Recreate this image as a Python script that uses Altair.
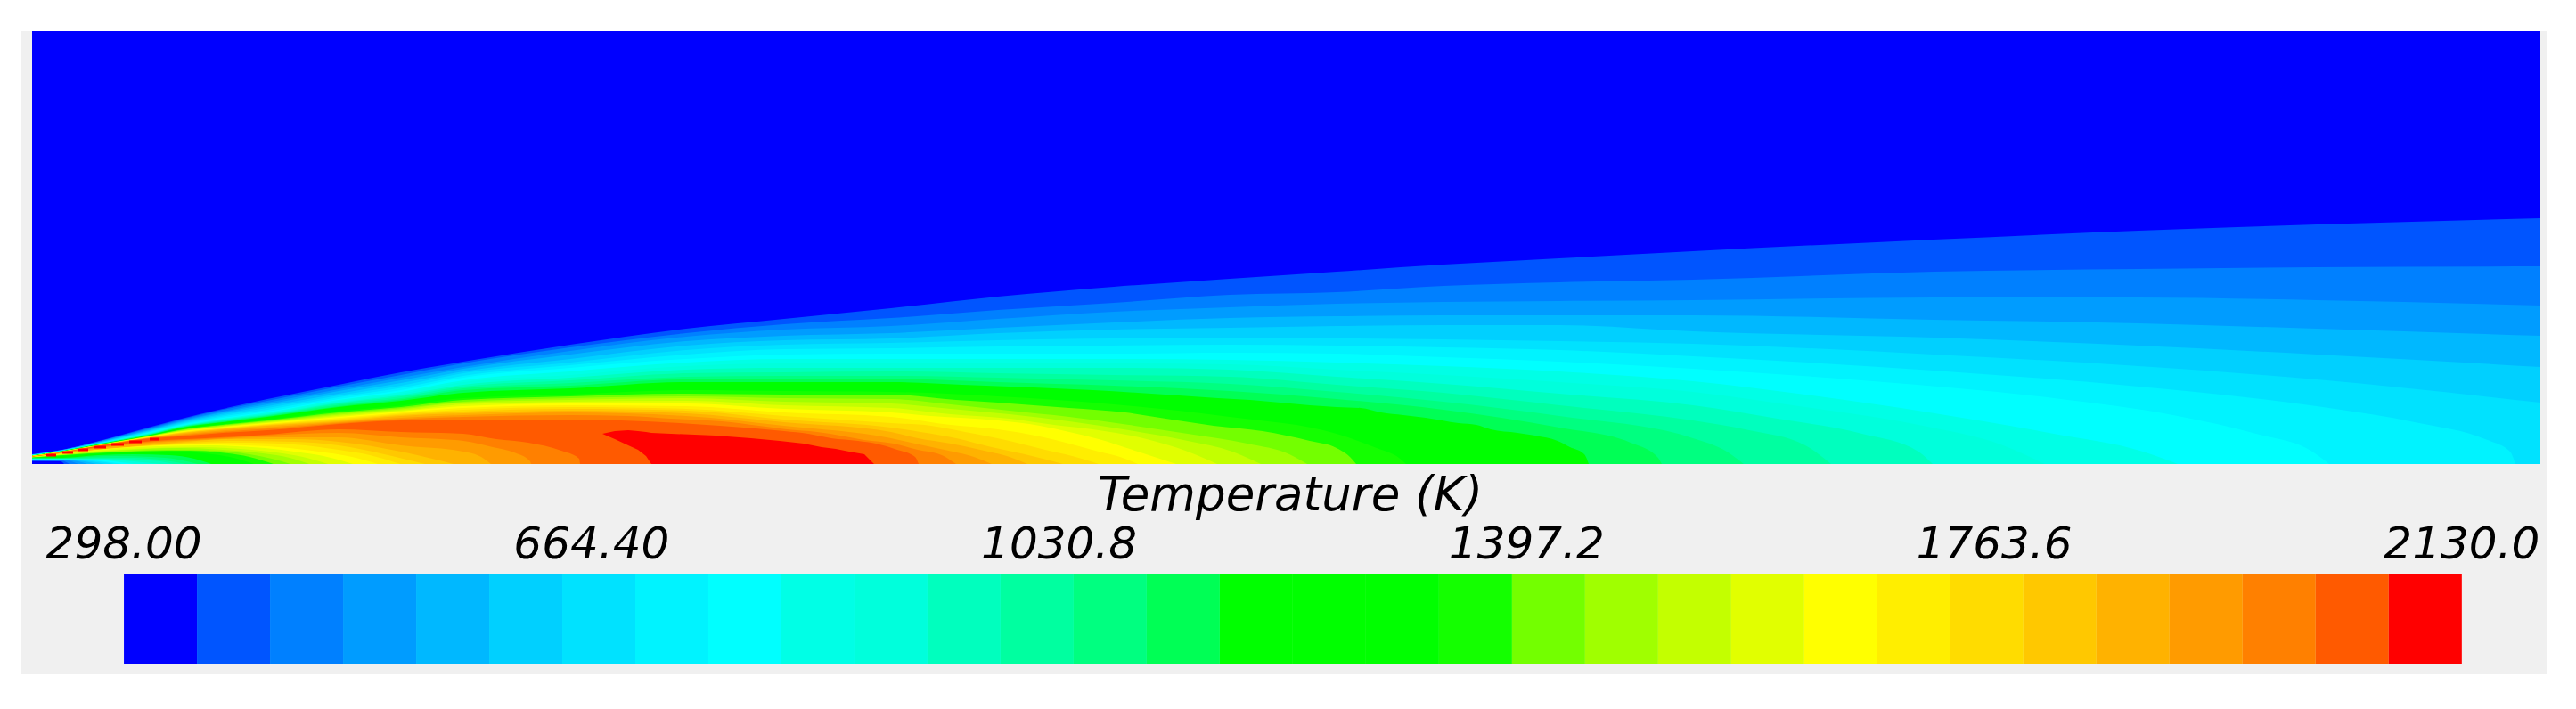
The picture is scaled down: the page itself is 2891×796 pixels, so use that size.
import altair as alt
import pandas as pd

COLORS = ["#0000ff", "#0055ff", "#0080ff", "#009cff", "#00b8ff", "#00d0ff", "#00e2ff", "#00f3ff",
          "#00ffff", "#00ffe6", "#00ffdc", "#00ffbe", "#00ffa0", "#00ff80", "#00ff55", "#00ff00",
          "#00ff00", "#00ff00", "#14ff00", "#73ff00", "#a0ff00", "#c3ff00", "#e1ff00", "#ffff00",
          "#ffee00", "#ffdc00", "#ffc800", "#ffb200", "#ff9b00", "#ff8000", "#ff5a00", "#ff0000"]

S = [36, 70, 100, 130, 170, 200, 250, 300, 380, 450, 520, 640, 770, 880, 1000, 1120, 1250, 1380,
     1500, 1620, 1750, 1900, 2170, 2400, 2600, 2851]

TOP = {
 1: ([11,16,23,31,42,50,62,73,89,103,115,134,152,163,175,188,199,208,216,224,231,239,252,262,269,276], []),
 2: ([10.9,15.9,22.7,30.5,41,49,61,71,87,100,113,131,147,157,164,173,181,190,193,200,204,207,216,219,221,222], []),
 3: ([10.7,15.7,22.4,29.9,40,48,59,69,84,97,109,127,143,151,155,163,171,176,180,182,183,184,187,187,184,178], []),
 4: ([10.6,15.6,22.1,29.3,39,47,58,67,82,94,107,123,138,144,147,153,159,164,166,167,167,167,162,158,152,144], []),
 5: ([10.4,15.4,21.8,28.7,38.2,46,56.5,65,79,91,104,118,133,139,141,147,151,153,155,156,156,149,142,133,123,109], []),
 6: ([10.3,15.3,21.5,28.2,37.5,45,55,63,77,88,102,114,128,134,136,139,141,141,141,140,138,135,123,110,95,69], []),
 7: ([10.1,15.1,21.2,27.6,36.7,44,53.5,61,75,85.5,99,111,123,129,130,132,133,134,133,131,128,121,105,87],
     [(2600,65),(2715,46),(2789,28),(2817,14),(2823,0)]),
 8: ([10,15,21,27,36,43,52,59,73,83,97,108,118,123,124,124,124,125,124,120,115,107],
     [(2102,93),(2305,74),(2444,54),(2532,34),(2595,14),(2614,0)]),
 9: ([9.9,14.9,20.8,26.8,35.5,42.5,51,58,72,81,94,104,114,118,118,118,118,117,114,110,104,93],
     [(2026,78),(2165,58),(2305,34),(2405,14),(2444,0)]),
 10: ([9.8,14.8,20.7,26.6,35,42,50.5,57,70.5,79,92,100,110,113,113,113,113,112,106,100,92,81],
     [(2026,64),(2153,44),(2248,21),(2295,0)]),
 11: ([9.8,14.7,20.5,26.4,34.5,41.7,49.8,56,69,77.5,89,97,106,108,108,108,108,106,98,90,79,66],
     [(1995,51),(2090,34),(2153,14),(2169,0)]),
 12: ([9.7,14.7,20.4,26.1,34,41.3,49,55,68,76,87,94,102,103,104,102,100,98,89,80,66,49],
     [(1963,38),(2026,21),(2055,0)]),
 13: ([9.6,14.6,20.2,25.9,33.7,41,48.3,54.5,66.5,74,85,91,98,99,99,97,94,90,81,70,54,29],
     [(1938,14),(1957,0)]),
 14: ([9.6,14.6,20.1,25.7,33.3,40.5,47.6,53.7,65,72.5,83,88,95,95,96,92,88,82,73,61,41],
     [(1830,24),(1860,8),(1865,0)]),
 15: ([9.5,14.5,20,25.5,33,40,47,53,64,71,80,85,92,92,92],
     [(1080,89),(1160,86),(1227,83),(1277,80),(1323,77),(1367,74),(1403,72),(1437,69),(1470,66),(1500,64),
      (1527,63),(1550,58),(1575,55),(1600,52),(1637,46),(1657,44),(1673,39),(1703,35),(1723,32),(1748,26),
      (1762,19),(1778,11),(1783,0)]),
 16: ([9.4,14.4,19.9,25.4,32.7,39.5,46.2,52,62.5,69,79,83,89,89,88,83,77,67,56,36],
     [(1670,24),(1705,8),(1712,0)]),
 17: ([9.4,14.3,19.8,25.3,32.5,39,45.5,51,61,67,77,80,86,85,84,79,72,61,46],
     [(1600,22),(1635,8),(1645,0)]),
 18: ([9.3,14.3,19.7,25.1,32.2,38.5,44.7,50,59.5,65.5,74,78,83,82,81,76,67,53,34],
     [(1545,18),(1570,7),(1578,0)]),
 19: ([9.2,14.2,19.6,25,32,38,44,49,58,64,72,76,79,78,78],
     [(1073,72),(1120,69),(1200,63),(1263,58),(1315,50),(1362,43),(1417,37),(1470,26),(1500,18),(1515,8),(1522,0)]),
 20: ([9.2,14.1,19.5,24.9,31.7,37.5,43.4,48.2,56.7,62.7,70,74,76,74,73],
     [(1067,67),(1133,60),(1200,53),(1267,44),(1333,34),(1400,23),(1447,11),(1467,0)]),
 21: ([9.1,14.1,19.4,24.7,31.5,37,42.8,47.5,55.5,61.5,69,72,74,70,68],
     [(1067,62),(1133,56),(1200,48),(1267,38),(1333,26),(1383,14),(1415,0)]),
 22: ([9,14,19.3,24.6,31.2,36.5,42.1,46.7,54.2,60.2,67,70,71,66,63],
     [(1067,56),(1133,51),(1183,44),(1233,38),(1283,29),(1333,14),(1366,0)]),
 23: ([9,14,19.2,24.5,31,36,41.5,46,53,59,65,68,68,62,58],
     [(1045,54),(1120,49),(1167,43),(1200,36),(1233,28),(1277,14),(1320,0)]),
 24: ([8.9,13.9,19.1,24.4,30.7,35.5,40.9,45.2,51.7,57.7,63,66,65,58,53],
     [(1067,44),(1120,39),(1167,31),(1200,23),(1233,14),(1257,8),(1277,0)]),
 25: ([8.8,13.8,19,24.3,30.5,35,40.2,44.5,50.5,56.5,61,64,62,54,46],
     [(1045,43),(1083,36),(1133,26),(1173,16),(1207,8),(1233,0)]),
 26: ([8.6,13.6,18.9,24.1,30.2,34.5,39.6,43.7,49.2,55.2,59,62,60,50,41],
     [(1033,36),(1073,29),(1113,19),(1150,11),(1193,0)]),
 27: ([8.5,13.5,18.8,24,30,34,39,43,48,54,57,60,57,47,36],
     [(1030,29),(1067,23),(1100,16),(1133,8),(1153,0)]),
 28: ([8.3,13.3,18.7,23.8,29.7,33,37.7,41.3,47,52,55,58,54,43,29],
     [(1027,23),(1060,16),(1093,8),(1113,0)]),
 29: ([8.2,13.2,18.6,23.7,29.3,32,36.3,39.7,46,50.5,53,55],
     [(705,54),(753,51),(810,48),(852,43),(883,39),(917,36),(943,32),(970,27),(1003,23),(1030,16),(1057,10),(1073,0)]),
 30: ([8,13,18.5,23.5,29,31,35,38,45,49,49,50],
     [(697,49),(763,46),(808,43),(848,40),(880,37),(907,34),(933,29),(963,26),(983,23),(1007,16),(1027,8),(1031,0)]),
}

LOW = {
 1: [(36,3),(68,3),(72,0)],
 2: [(36,4),(70,3.5),(78,0)],
 3: [(36,4.2),(75,3.7),(88,0)],
 4: [(36,4.4),(80,3.9),(98,0)],
 5: [(36,4.6),(85,4),(108,0)],
 6: [(36,4.8),(90,4.2),(118,0)],
 7: [(36,5),(95,4.4),(128,0)],
 8: [(36,5.2),(100,4.6),(137,0)],
 9: [(36,5.4),(105,4.8),(150,0)],
 10: [(36,5.6),(110,5),(140,2),(165,0)],
 11: [(36,5.8),(70,5.5),(115,5.5),(150,3),(180,0)],
 12: [(36,6),(70,5.7),(120,6),(175,3.5),(195,0)],
 13: [(36,6.2),(70,6),(110,7),(150,7),(185,4),(208,0)],
 14: [(36,6.4),(70,6.5),(100,8),(130,9),(170,8),(200,5),(222,0)],
 15: [(36,6.6),(70,7),(110,10),(150,11),(190,10),(218,6),(237,0)],
 16: [(36,6.8),(80,8),(120,11),(160,12),(200,11),(232,6),(250,0)],
 17: [(36,7),(100,10),(140,12.5),(180,13),(215,11),(247,6),(265,0)],
 18: [(36,7.1),(100,11),(150,13.5),(190,14),(230,12),(262,7),(285,0)],
 19: [(36,7.2),(100,12),(163,14.5),(213,15),(247,13),(280,8),(307,0)],
 20: [(36,7.3),(120,13),(190,16),(240,15),(280,11),(305,6),(326,0)],
 21: [(36,7.4),(130,15),(200,18),(250,16),(295,12),(325,7),(347,0)],
 22: [(36,7.5),(150,17),(220,19),(270,17),(310,13),(340,8),(368,0)],
 23: [(36,7.6),(163,19.5),(230,21),(297,18),(330,14),(363,9),(396,0)],
 24: [(36,7.7),(180,21),(230,22),(300,20),(350,15),(395,8),(424,0)],
 25: [(36,7.7),(197,22),(263,24),(330,22),(380,16),(415,10),(449,0)],
 26: [(36,7.8),(197,23),(263,26),(330,25),(380,21),(440,9),(477,0)],
 27: [(36,7.8),(197,24),(263,28),(330,28),(380,25),(450,14),(509,0)],
 28: [(36,7.9),(173,24),(230,27),(300,30),(380,30),(450,21),(520,14),(540,8),(551,0)],
 29: [(36,7.9),(173,25),(230,28),(300,32),(380,35),(450,30),(520,26),(553,19),(577,13),(595,3),(596,0)],
 30: [(36,8),(173,26),(230,29),(300,33),(380,39),(450,36),(520,34),(557,28),(593,24),(630,15),(650,6),(651,0)],
}

CORE_X = [676, 690, 705, 716, 725, 731, 803, 843, 875, 902, 922, 938, 953, 970, 981]
CORE_TOP = [34, 37, 38, 37, 36, 35, 32, 29, 26, 23, 19, 17, 14, 11, 0]
CORE_LOW = [34, 28, 21, 16, 9, 0, 0, 0, 0, 0, 0, 0, 0, 0, 0]

DASH_START = [52, 70, 87, 105, 125, 145, 168]
DASH_END = [63, 82, 99, 119, 139, 159, 179]
DASH_LOW = [8.5, 11.5, 14.5, 17.5, 20.5, 23.5, 26.5]
DASH_HIGH = [11.5, 14.5, 17.5, 20.5, 23.5, 26.5, 29.5]

T_MIN, T_MAX = 298.0, 2130.0
T_TICKS = [298.0, 664.4, 1030.8, 1397.2, 1763.6, 2130.0]
T_LABELS = ["298.00", "664.40", "1030.8", "1397.2", "1763.6", "2130.0"]
TITLE = "Temperature (K)"

x_s = alt.Scale(domain=[8, 2883], range=[0, 2875])
y_s = alt.Scale(domain=[-267, 513], range=[780, 0])
t_s = alt.Scale(domain=[206.5, 2213.9], range=[0, 2875])


def X(f="x"):
    return alt.X(f"{f}:Q", scale=x_s, axis=None, title=None)


def Y(f="h"):
    return alt.Y(f"{f}:Q", scale=y_s, axis=None, title=None)


def box(x0, x1, h0, h1, color):
    d = pd.DataFrame({"x": [x0], "x2": [x1], "h": [h0], "h2": [h1]})
    return alt.Chart(d).mark_rect(color=color, stroke=None).encode(
        x=X(), x2="x2:Q", y=Y(), y2="h2:Q")


def area(xs, hs, lows, color):
    d = pd.DataFrame({"x": xs, "h": hs, "low": lows})
    return alt.Chart(d).mark_area(color=color, interpolate="monotone", opacity=1).encode(
        x=X(), y=Y(), y2="low:Q")


layers = [box(24, 2858, -236, 486, "#f0f0f0"), box(36, 2851, 0, 486, COLORS[0])]

for k in range(1, 31):
    vals, tail = TOP[k]
    xs = S[:len(vals)] + [p[0] for p in tail]
    hs = list(vals) + [p[1] for p in tail]
    layers.append(area(xs, hs, [0] * len(xs), COLORS[k]))

for k in range(30, 0, -1):
    pts = LOW[k]
    xs = [p[0] for p in pts]
    hs = [p[1] for p in pts]
    layers.append(area(xs, hs, [0] * len(xs), COLORS[k - 1]))

core = pd.DataFrame({"x": CORE_X, "h": CORE_TOP, "low": CORE_LOW})
layers.append(alt.Chart(core).mark_area(color=COLORS[31], interpolate="linear").encode(
    x=X(), y=Y(), y2="low:Q"))

dashes = pd.DataFrame({"x": DASH_START, "x2": DASH_END, "h": DASH_LOW, "h2": DASH_HIGH})
layers.append(alt.Chart(dashes).mark_rect(color=COLORS[31]).encode(
    x=X(), x2="x2:Q", y=Y(), y2="h2:Q"))

step = (T_MAX - T_MIN) / len(COLORS)
bar = pd.DataFrame({
    "t0": [T_MIN + i * step for i in range(len(COLORS))],
    "t1": [T_MIN + (i + 1) * step for i in range(len(COLORS))],
    "c": COLORS,
    "i": list(range(len(COLORS))),
})
layers.append(alt.Chart(bar).mark_rect().encode(
    x=alt.X("t0:Q", scale=t_s, axis=None, title=None), x2="t1:Q",
    y=alt.value(636), y2=alt.value(737),
    color=alt.Color("c:N", scale=None, legend=None),
))

ticks = pd.DataFrame({"t": T_TICKS, "s": T_LABELS})
layers.append(alt.Chart(ticks).mark_text(
    font="DejaVu Sans", fontStyle="italic", fontSize=50, align="center",
    baseline="alphabetic", color="#000000").encode(
    x=alt.X("t:Q", scale=t_s, axis=None, title=None), y=alt.value(619), text="s:N"))

title = pd.DataFrame({"t": [(T_MIN + T_MAX) / 2 - 2], "s": [TITLE]})
layers.append(alt.Chart(title).mark_text(
    font="DejaVu Sans", fontStyle="italic", fontSize=53, align="center",
    baseline="alphabetic", color="#000000").encode(
    x=alt.X("t:Q", scale=t_s, axis=None, title=None), y=alt.value(565), text="s:N"))

chart = alt.layer(*layers).resolve_scale(x="independent", y="independent", color="independent").properties(
    width=2875, height=780, padding=0, autosize="none", background="#ffffff"
).configure_view(stroke=None)

chart.save("out.html", embed_options={"renderer": "svg", "actions": False})
